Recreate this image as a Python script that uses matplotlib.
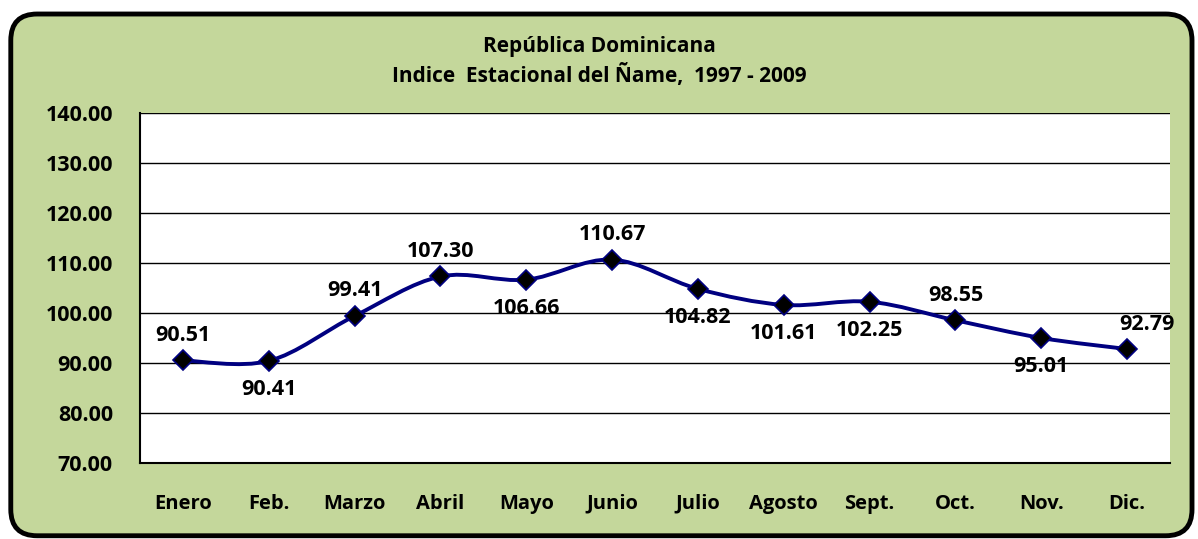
import numpy as np
import matplotlib
matplotlib.use("Agg")
import matplotlib.pyplot as plt
from matplotlib.path import Path
from matplotlib.patches import PathPatch, FancyBboxPatch

# data
months = ["Enero", "Feb.", "Marzo", "Abril", "Mayo", "Junio", "Julio",
          "Agosto", "Sept.", "Oct.", "Nov.", "Dic."]
index_vals = [90.51, 90.41, 99.41, 107.30, 106.66, 110.67, 104.82,
              101.61, 102.25, 98.55, 95.01, 92.79]
label_side = ["up", "down", "up", "up", "down", "up", "down",
              "down", "down", "up", "down", "up"]
yticks = [70, 80, 90, 100, 110, 120, 130, 140]

plt.rcParams['font.family'] = ['Open Sans', 'DejaVu Sans']

fig = plt.figure(figsize=(11.98, 5.39), dpi=100)
fig.patch.set_facecolor("white")

# rounded green frame
frame = FancyBboxPatch((0.009, 0.006), 0.986, 0.968,
                       boxstyle="round,pad=0,rounding_size=0.022",
                       transform=fig.transFigure, facecolor="#C4D79B",
                       edgecolor="black", linewidth=3.5, mutation_aspect=1198/539,
                       zorder=-5)
fig.patches.append(frame)

ax = fig.add_axes([0.1169, 0.141, 0.8597, 0.6494])
ax.set_facecolor("white")
ax.set_xlim(-0.5, 11.5)
ax.set_ylim(70, 140)
ax.set_yticks(yticks)
ax.set_yticklabels([f"{v:.2f}" for v in yticks], fontsize=15.5, fontweight="bold")
ax.set_xticks(range(len(months)))
ax.set_xticklabels(months, fontsize=14.5, fontweight="bold")
ax.tick_params(axis="both", length=0)
ax.tick_params(axis="x", pad=22)
ax.tick_params(axis="y", pad=19.5)
ax.grid(axis="y", color="black", linewidth=1)
ax.set_axisbelow(True)
for s in ["top", "right"]:
    ax.spines[s].set_visible(False)
for s in ["left", "bottom"]:
    ax.spines[s].set_linewidth(1.5)

# smoothed line (Catmull-Rom -> cubic Bezier)
x = np.arange(len(index_vals), dtype=float)
y = np.array(index_vals)
verts = [(x[0], y[0])]
codes = [Path.MOVETO]
t = 1 / 6
for i in range(len(x) - 1):
    p0 = (x[max(i - 1, 0)], y[max(i - 1, 0)])
    p1 = (x[i], y[i])
    p2 = (x[i + 1], y[i + 1])
    p3 = (x[min(i + 2, len(x) - 1)], y[min(i + 2, len(x) - 1)])
    c1 = (p1[0] + (p2[0] - p0[0]) * t, p1[1] + (p2[1] - p0[1]) * t)
    c2 = (p2[0] - (p3[0] - p1[0]) * t, p2[1] - (p3[1] - p1[1]) * t)
    verts += [c1, c2, p2]
    codes += [Path.CURVE4] * 3
ax.add_patch(PathPatch(Path(verts, codes), facecolor="none",
                       edgecolor="#000080", linewidth=2.8, zorder=3))
ax.plot(x, y, linestyle="none", marker="D", markersize=10.5,
        markerfacecolor="black", markeredgecolor="#000080",
        markeredgewidth=1.2, zorder=4)

for i, (v, side) in enumerate(zip(index_vals, label_side)):
    dy = 25 if side == "up" else -29
    dx = 20 if i == len(index_vals) - 1 else 0
    ax.annotate(f"{v:.2f}", (i, v), xytext=(dx, dy), textcoords="offset pixels",
                ha="center", va="center", fontsize=15.5, fontweight="bold")

fig.text(0.5, 0.913, "República Dominicana", ha="center", va="center",
         fontsize=15, fontweight="bold")
fig.text(0.5, 0.859, "Indice  Estacional del Ñame,  1997 - 2009", ha="center",
         va="center", fontsize=15, fontweight="bold")

fig.savefig("out.png", dpi=100)
